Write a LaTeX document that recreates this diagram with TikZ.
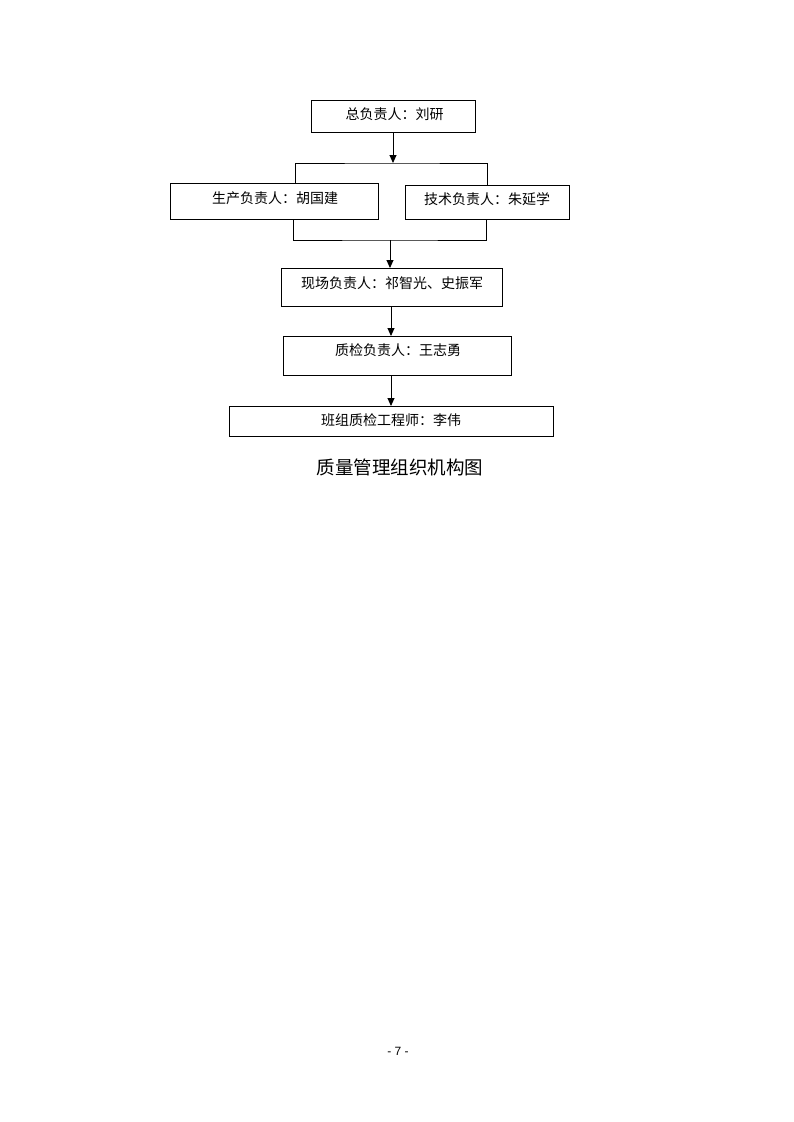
\documentclass[tikz,border=0pt]{standalone}
\usepackage{fontspec}
\setmainfont{Liberation Serif}
\newfontfamily\cjk{Noto Sans CJK SC}
\newfontfamily\pgnum{Liberation Sans}
\usetikzlibrary{arrows.meta,calc}
\begin{document}
\begin{tikzpicture}[x=1pt,y=-1pt,
  box/.style={draw,line width=0.9pt,inner sep=0pt,outer sep=0pt},
  lbl/.style={font=\cjk\fontsize{14}{16}\selectfont,inner sep=0pt},
  conn/.style={line width=0.9pt},
  arr/.style={line width=0.9pt,-{Triangle[length=8pt,width=7pt]}}]
\useasboundingbox[fill=white] (0,0) rectangle (793,1122);
% boxes
\node[box,minimum width=164pt,minimum height=32pt] (b1) at (393,116) {};
\node[box,minimum width=208pt,minimum height=36pt] (b2) at (274,201) {};
\node[box,minimum width=164pt,minimum height=34pt] (b3) at (487,202) {};
\node[box,minimum width=221pt,minimum height=38pt] (b4) at (391.5,287) {};
\node[box,minimum width=228pt,minimum height=39pt] (b5) at (397,355.5) {};
\node[box,minimum width=324pt,minimum height=30pt] (b6) at (391,421) {};
% labels
\node[lbl] (t1) at (394.5,114) {总负责人：刘研};
\node[lbl] (t2) at (275,198) {生产负责人：胡国建};
\node[lbl] (t3) at (487,199) {技术负责人：朱延学};
\node[lbl] (t4) at (392,283) {现场负责人：祁智光、史振军};
\node[lbl] (t5) at (398,350) {质检负责人：王志勇};
\node[lbl] (t6) at (391,420) {班组质检工程师：李伟};
% helper coordinates
\coordinate (j1) at (393,163);
\coordinate (xl1) at (295,0);
\coordinate (xr1) at (487,0);
\coordinate (j2) at (390,240);
\coordinate (xl2) at (293,0);
\coordinate (xr2) at (486,0);
\coordinate (ax) at (391,0);
% connectors
\draw[arr] (b1.south) -- (j1);
\draw[conn] (b2.north -| xl1) |- (j1) -| (b3.north -| xr1);
\draw[conn] (b2.south -| xl2) |- (j2) -| (b3.south -| xr2);
\draw[arr] (j2) -- (b4.north -| j2);
\draw[arr] (b4.south -| ax) -- (b5.north -| ax);
\draw[arr] (b5.south -| ax) -- (b6.north -| ax);
% caption
\node[font=\cjk\fontsize{18.5}{20}\selectfont,inner sep=0pt] (cap) at (400,467) {质量管理组织机构图};
\node[font=\pgnum\fontsize{12}{14}\selectfont,inner sep=0pt] (pg) at (398,1051) {- 7 -};
\end{tikzpicture}
\end{document}
